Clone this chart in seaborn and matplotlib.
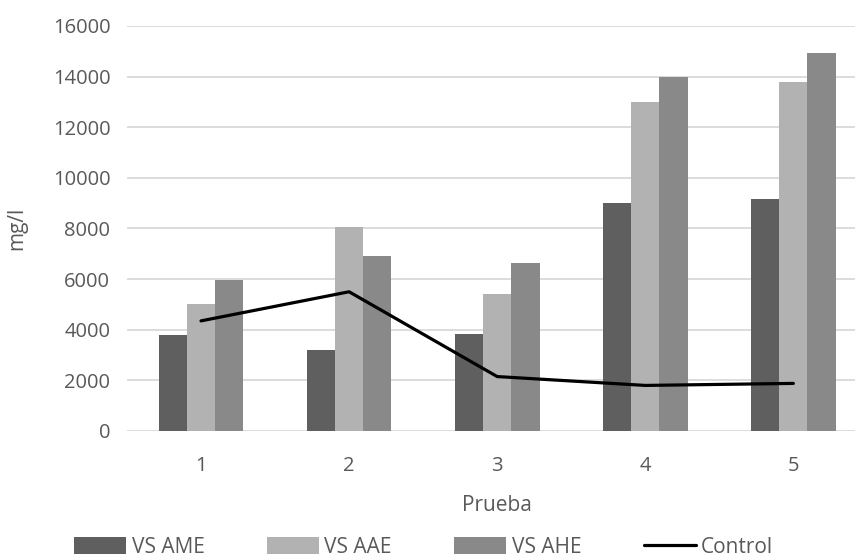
import matplotlib
matplotlib.use("Agg")
import matplotlib.pyplot as plt
from matplotlib.patches import Patch
from matplotlib.lines import Line2D
import seaborn as sns
import pandas as pd

pruebas = ["1", "2", "3", "4", "5"]
vs_ame = [3800, 3200, 3850, 9000, 9150]
vs_aae = [5000, 8050, 5420, 13000, 13800]
vs_ahe = [5950, 6930, 6640, 14000, 14950]
control = [4350, 5500, 2150, 1800, 1880]
series_names = ["VS AME", "VS AAE", "VS AHE"]
y_ticks = [0, 2000, 4000, 6000, 8000, 10000, 12000, 14000, 16000]

colors = ["#5f5f5f", "#b2b2b2", "#898989"]
text_color = "#595959"
grid_color = "#d9d9d9"

sns.set_theme(style="white")
plt.rcParams["font.family"] = ["Open Sans", "DejaVu Sans"]

df = pd.DataFrame({
    "Prueba": pruebas * 3,
    "Serie": sum([[n] * len(pruebas) for n in series_names], []),
    "valor": vs_ame + vs_aae + vs_ahe,
})

fig = plt.figure(figsize=(8.55, 5.59), dpi=100)
# plot area runs slightly past the right edge of the canvas
ax = fig.add_axes([0.1485, 0.229, 0.866, 0.7245])

sns.barplot(data=df, x="Prueba", y="valor", hue="Serie", order=pruebas,
            hue_order=series_names, palette=colors, width=0.572, gap=0,
            saturation=1, edgecolor="none", linewidth=0, ax=ax, legend=False,
            zorder=2)

ctrl_df = pd.DataFrame({"x": list(range(len(pruebas))), "Control": control})
sns.lineplot(data=ctrl_df, x="x", y="Control", color="black", linewidth=2.3,
             ax=ax, zorder=3)

ax.set_xlim(-0.5, len(pruebas) - 0.5)
ax.set_ylim(0, 16000)
ax.set_yticks(y_ticks)
ax.set_yticklabels([str(t) for t in y_ticks])
ax.set_xticks(range(len(pruebas)))
ax.set_xticklabels(pruebas)
ax.yaxis.grid(True, color=grid_color, linewidth=1.3, zorder=0)
ax.set_axisbelow(True)
for s in ax.spines.values():
    s.set_visible(False)
ax.tick_params(axis="both", length=0, labelsize=14.5, colors=text_color)
ax.tick_params(axis="x", pad=18)
ax.tick_params(axis="y", pad=12)

ax.set_xlabel("Prueba", fontsize=15, color=text_color, labelpad=14)
ax.set_ylabel("mg/l", fontsize=15, color=text_color, labelpad=18)

handles = [Patch(facecolor=c, edgecolor="none") for c in colors]
handles.append(Line2D([0], [0], color="black", linewidth=2.3))
labels = series_names + ["Control"]
fig.legend(handles, labels, loc="center left", bbox_to_anchor=(0.087, 0.021),
           ncol=4, frameon=False, fontsize=15, labelcolor=text_color,
           handlelength=2.5, handleheight=0.9, handletextpad=0.25,
           columnspacing=3.0, borderaxespad=0, borderpad=0)

fig.savefig("out.png", dpi=100)
